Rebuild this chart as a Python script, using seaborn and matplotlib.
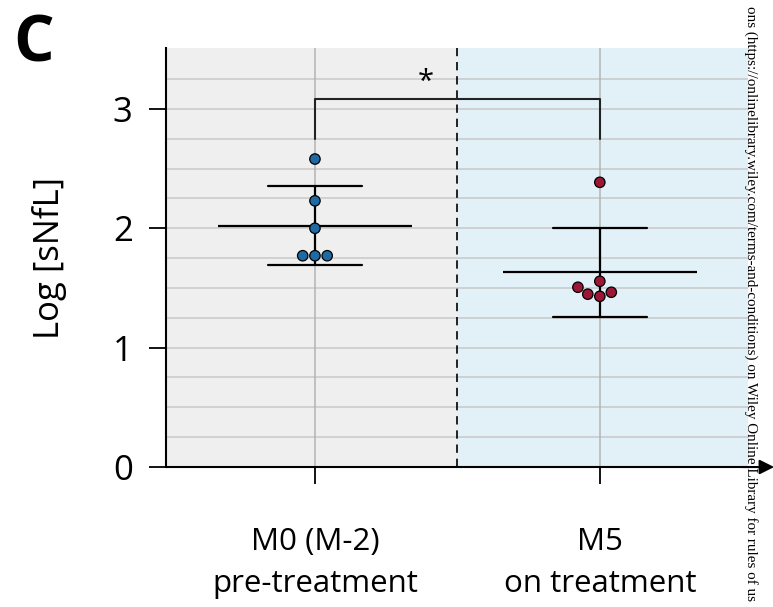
import numpy as np
import pandas as pd
import matplotlib
matplotlib.use("Agg")
import matplotlib.pyplot as plt
import seaborn as sns

# Log sNfL per visit
m0_values = [2.58, 2.23, 2.00, 1.77, 1.77, 1.77]
m5_values = [2.385, 1.556, 1.43, 1.506, 1.448, 1.464]
groups = ["M0", "M5"]
tick_labels = ["M0 (M-2)\npre-treatment", "M5\non treatment"]
yticks = [0, 1, 2, 3]
star_label = "*"

blue = "#1f6aa3"
red = "#9c1636"

df = pd.DataFrame({
    "group": ["M0"] * len(m0_values) + ["M5"] * len(m5_values),
    "value": m0_values + m5_values,
})

sns.set_style("white")
plt.rcParams["font.family"] = ["Open Sans", "DejaVu Sans"]
plt.rcParams["text.color"] = "black"
plt.rcParams["axes.labelcolor"] = "black"
plt.rcParams["xtick.color"] = "black"
plt.rcParams["ytick.color"] = "black"

fig = plt.figure(figsize=(7.73, 6.07), dpi=100)
ax = fig.add_axes([0.2147, 0.2306, 0.7529, 0.6903])

# shaded panels for the two visits
ax.axvspan(-0.6, 0.5, color="#efefef", zorder=0, lw=0)
ax.axvspan(0.5, 1.7, color="#e2f0f8", zorder=0, lw=0)

# grid
for yv in np.arange(0.25, 3.5, 0.25):
    ax.axhline(yv, color="#c8c8c8", lw=1.1, zorder=0.5)
for xv in [0, 1]:
    ax.axvline(xv, color="#b4b4b4", lw=1.1, zorder=0.5)
ax.axvline(0.5, color="black", lw=1.2, ls=(0, (5, 3.5)), zorder=1)

# mean +/- SD
sns.pointplot(data=df, x="group", y="value", order=groups, errorbar="sd",
              capsize=0.33, linestyle="none", markers="", color="black",
              err_kws={"linewidth": 1.6}, ax=ax, zorder=2)
means = df.groupby("group")["value"].mean()
for i, g in enumerate(groups):
    ax.hlines(means[g], i - 0.34, i + 0.34, color="black", lw=1.6, zorder=2)

sns.swarmplot(data=df, x="group", y="value", order=groups, hue="group",
              palette=[blue, red], size=7.5, edgecolor="black", linewidth=0.9,
              legend=False, ax=ax, zorder=3)

# significance bracket
top = 3.08
ax.plot([0, 0, 1, 1], [2.75, top, top, 2.75], color="#222222", lw=1.5, zorder=2)
ax.text(0.39, top + 0.02, star_label, ha="center", va="bottom", fontsize=21)

ax.set_xlim(-0.523, 1.52)
ax.set_ylim(0, 3.51)
ax.set_yticks(yticks)
ax.set_xticks(range(len(groups)))
ax.set_xticklabels(tick_labels, linespacing=1.55, fontsize=22.5)
ax.tick_params(axis="y", labelsize=25, length=12, width=1.3, pad=12, direction="out", left=True)
ax.tick_params(axis="x", length=12, width=1.3, pad=31, direction="out", bottom=True)
ax.set_xlabel("")
ax.set_ylabel("Log [sNfL]", fontsize=25, labelpad=33)

for s in ["top", "right"]:
    ax.spines[s].set_visible(False)
for s in ["left", "bottom"]:
    ax.spines[s].set_linewidth(1.5)
    ax.spines[s].set_color("black")

# arrow on the x axis
ax.annotate("", xy=(1.045, 0), xytext=(0.99, 0), xycoords="axes fraction",
            arrowprops=dict(arrowstyle="-|>", color="black", lw=1.5,
                            mutation_scale=22, shrinkA=0, shrinkB=0),
            annotation_clip=False)

fig.text(0.017, 0.98, "C", fontsize=46, fontweight="bold", va="top", ha="left")
fig.text(0.971, 0.5,
         "ons (https://onlinelibrary.wiley.com/terms-and-conditions) on Wiley Online Library for rules of us",
         rotation=-90, family="Liberation Serif", fontsize=10.9, ha="center", va="center")

fig.savefig("out.png", dpi=100)
